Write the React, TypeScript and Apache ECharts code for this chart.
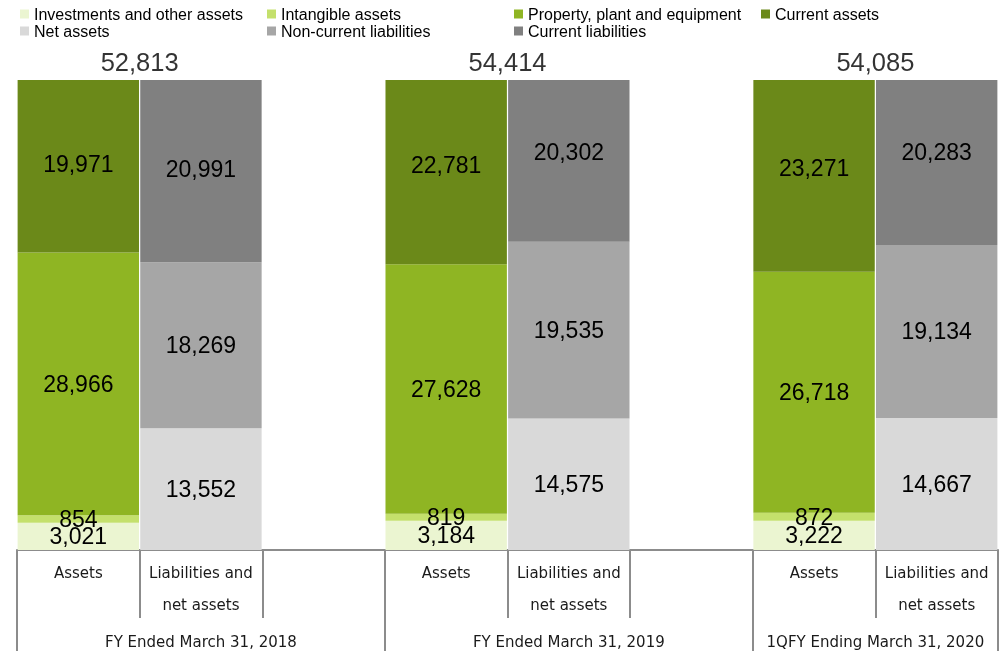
import React, { useEffect, useRef } from "react";
import * as echarts from "echarts";

const categories = [
  "Assets",
  "Liabilities and\nnet assets",
  "",
  "Assets",
  "Liabilities and\nnet assets",
  "",
  "Assets",
  "Liabilities and\nnet assets",
];
const groupLabels = [
  "FY Ended March 31, 2018",
  "FY Ended March 31, 2019",
  "1QFY Ending March 31, 2020",
];
const totals = [52813, 54414, 54085];

// labelled values (¥ million)
const investments = [3021, 3184, 3222];
const intangible = [854, 819, 872];
const ppe = [28966, 27628, 26718];
const currentAssets = [19971, 22781, 23271];
const netAssets = [13552, 14575, 14667];
const nonCurrentLiab = [18269, 19535, 19134];
const currentLiab = [20991, 20302, 20283];

// drawn height of each segment as % of its bar
const investmentsShare = [5.8, 6.2, 6.2];
const intangibleShare = [1.6, 1.5, 1.7];
const ppeShare = [55.9, 53.1, 51.3];
const currentAssetsShare = [36.7, 39.2, 40.8];
const netAssetsShare = [25.9, 28.0, 28.1];
const nonCurrentLiabShare = [35.3, 37.6, 36.8];
const currentLiabShare = [38.8, 34.4, 35.1];

// slot indices of the bars within the 8-slot category axis
const assetSlots = [0, 3, 6];
const liabSlots = [1, 4, 7];
const groupStarts = [0, 3, 6];
const groupEnds = [3, 6, 8];

const assetSeries = [
  { name: "Investments and other assets", values: investments, share: investmentsShare, color: "#EBF5D1", nudge: [0, 0, 0] },
  { name: "Intangible assets", values: intangible, share: intangibleShare, color: "#C4E06C", nudge: [0, 0, 0] },
  { name: "Property, plant and equipment", values: ppe, share: ppeShare, color: "#8FB523", nudge: [0, 0, 0] },
  { name: "Current assets", values: currentAssets, share: currentAssetsShare, color: "#6B8919", nudge: [-2, -7, -8] },
];
const liabSeries = [
  { name: "Net assets", values: netAssets, share: netAssetsShare, color: "#D9D9D9", nudge: [0, 0, 0] },
  { name: "Non-current liabilities", values: nonCurrentLiab, share: nonCurrentLiabShare, color: "#A6A6A6", nudge: [0, 0, 0] },
  { name: "Current liabilities", values: currentLiab, share: currentLiabShare, color: "#808080", nudge: [-2, -9, -10] },
];

const fmt = (v: number) => v.toLocaleString("en-US");

export default function App() {
  const ref = useRef<HTMLDivElement>(null);
  useEffect(() => {
    if (!ref.current) return;
    const chart = echarts.init(ref.current, null, { renderer: "svg" });

    const build = (list: any[], slots: number[]) =>
      list.map((s) => {
        const data: any[] = categories.map(() => "-");
        slots.forEach((slot, g) => {
          data[slot] = {
            value: s.share[g],
            raw: s.values[g],
            label: { offset: [0, s.nudge[g]] },
          };
        });
        return {
          type: "bar",
          name: s.name,
          stack: "total",
          barCategoryGap: "1%",
          xAxisIndex: 0,
          yAxisIndex: 0,
          itemStyle: { color: s.color },
          label: {
            show: true,
            position: "inside",
            color: "#000",
            fontSize: 23,
            fontFamily: "Liberation Sans, Arial, sans-serif",
            formatter: (p: any) => fmt(p.data.raw),
          },
          data,
        };
      });

    const legendText = {
      fontSize: 16,
      fontFamily: "Liberation Sans, Arial, sans-serif",
      color: "#000",
      lineHeight: 16,
    };
    const mkLegend = (left: number, data: string[]) => ({
      orient: "vertical",
      left,
      top: 6,
      padding: 0,
      itemGap: 1,
      itemWidth: 9,
      itemHeight: 9,
      icon: "rect",
      selectedMode: false,
      textStyle: legendText,
      data,
    });

    const lineColor = "#8C8C8C";

    chart.setOption({
      animation: false,
      legend: [
        mkLegend(20, ["Investments and other assets", "Net assets"]),
        mkLegend(267, ["Intangible assets", "Non-current liabilities"]),
        mkLegend(514, ["Property, plant and equipment", "Current liabilities"]),
        mkLegend(761, ["Current assets"]),
      ],
      grid: { left: 17, right: 3, top: 80, bottom: 101, containLabel: false },
      xAxis: [
        {
          type: "category",
          data: categories,
          position: "bottom",
          axisLine: { show: true, lineStyle: { color: lineColor, width: 2 } },
          axisTick: {
            show: true,
            interval: 0,
            length: 68,
            lineStyle: { color: lineColor, width: 2 },
          },
          axisLabel: {
            interval: 0,
            margin: 7,
            fontSize: 15,
            lineHeight: 32,
            color: "#1a1a1a",
            fontFamily: "DejaVu Sans, Verdana, sans-serif",
          },
        },
        {
          type: "value",
          min: 0,
          max: categories.length,
          position: "bottom",
          axisLine: { show: false },
          splitLine: { show: false },
          axisTick: {
            show: true,
            customValues: [...groupStarts, groupEnds[groupEnds.length - 1]],
            length: 110,
            lineStyle: { color: lineColor, width: 2 },
          },
          axisLabel: {
            show: true,
            customValues: groupStarts.map((s, i) => (s + groupEnds[i]) / 2),
            margin: 84,
            fontSize: 15,
            lineHeight: 16,
            color: "#1a1a1a",
            fontFamily: "DejaVu Sans, Verdana, sans-serif",
            formatter: (v: number) => {
              const i = groupStarts.findIndex((s, k) => (s + groupEnds[k]) / 2 === v);
              return i >= 0 ? groupLabels[i] : "";
            },
          },
        },
      ],
      yAxis: {
        type: "value",
        min: 0,
        max: 100,
        show: false,
        splitLine: { show: false },
      },
      series: [
        ...build(assetSeries, assetSlots),
        ...build(liabSeries, liabSlots),
        {
          type: "scatter",
          name: "totals",
          xAxisIndex: 1,
          yAxisIndex: 0,
          symbolSize: 0,
          silent: true,
          label: {
            show: true,
            position: "top",
            distance: 5,
            color: "#000",
            fontSize: 25.5,
            fontFamily: "Liberation Sans, Arial, sans-serif",
            formatter: (p: any) => fmt(p.data.raw),
          },
          data: totals.map((t, g) => ({ value: [liabSlots[g], 100], raw: t })),
        },
      ],
    });
    return () => chart.dispose();
  }, []);
  return (
    <div
      ref={ref}
      style={{ position: "fixed", left: 0, top: 0, width: 1001, height: 651 }}
    />
  );
}
